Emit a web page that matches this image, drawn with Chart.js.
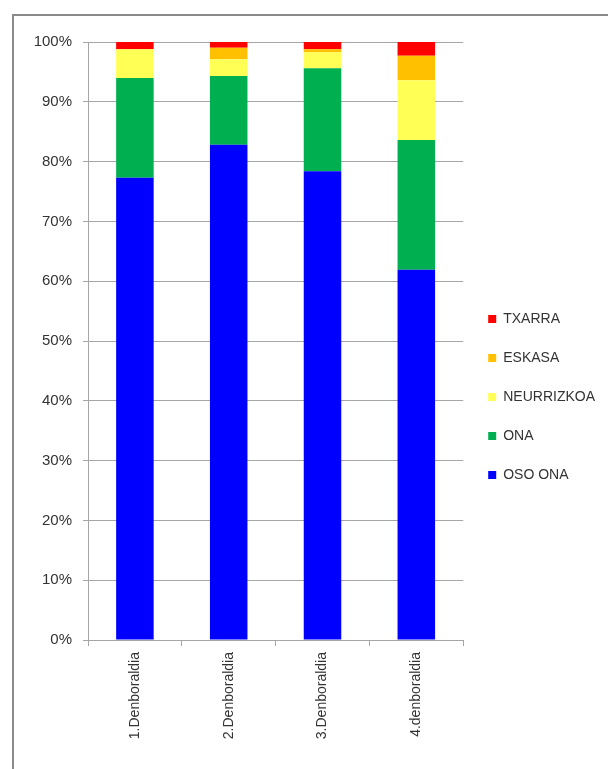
<!DOCTYPE html>
<html>
<head>
<meta charset="utf-8">
<script src="https://cdn.jsdelivr.net/npm/chart.js@4"></script>
<style>
  html, body { margin: 0; padding: 0; background: #fff; overflow: hidden; }
  #wrap { position: relative; width: 608px; height: 769px; }
  #frame { position: absolute; left: 12px; top: 14px; width: 700px; height: 800px; border: 2px solid #8a8a8a; box-sizing: border-box; }
  #chart { position: absolute; left: 0; top: 0; }
</style>
</head>
<body>
<div id="wrap">
  <div id="frame"></div>
  <canvas id="chart" width="608" height="769"></canvas>
</div>
<script>
const categories = ["1.Denboraldia", "2.Denboraldia", "3.Denboraldia", "4.denboraldia"];

// percentages per category, bottom of the stack first
const osoOna = [77.3, 82.8, 78.4, 61.9];
const ona = [16.7, 11.5, 17.2, 21.7];
const neurrizkoa = [4.8, 2.8, 2.7, 10.0];
const eskasa = [0, 1.95, 0.5, 4.1];
const txarra = [1.2, 0.95, 1.2, 2.3];

const yTicks = [0, 10, 20, 30, 40, 50, 60, 70, 80, 90, 100];

const gridColor = "#a6a6a6";
const textColor = "#333333";
const font = { family: "'Liberation Sans', Arial, sans-serif", size: 14 };

const ctx = document.getElementById("chart").getContext("2d");

new Chart(ctx, {
  type: "bar",
  data: {
    labels: categories,
    datasets: [
      { label: "OSO ONA", data: osoOna, backgroundColor: "#0000ff" },
      { label: "ONA", data: ona, backgroundColor: "#00b050" },
      { label: "NEURRIZKOA", data: neurrizkoa, backgroundColor: "#ffff55" },
      { label: "ESKASA", data: eskasa, backgroundColor: "#ffc000" },
      { label: "TXARRA", data: txarra, backgroundColor: "#ff0000" },
    ],
  },
  options: {
    responsive: false,
    animation: false,
    layout: { padding: { top: 42, left: 0, right: 3, bottom: 17 } },
    datasets: {
      bar: { categoryPercentage: 1, barPercentage: 0.4, borderWidth: 0 },
    },
    scales: {
      x: {
        stacked: true,
        grid: {
          offset: true,
          drawOnChartArea: false,
          drawTicks: true,
          tickLength: 6,
          color: gridColor,
        },
        border: { color: gridColor },
        ticks: {
          color: textColor,
          font: font,
          minRotation: 90,
          maxRotation: 90,
          padding: 6,
        },
        afterFit: (s) => { s.height = 112; },
      },
      y: {
        stacked: true,
        min: 0,
        max: 100,
        afterBuildTicks: (s) => { s.ticks = yTicks.map((v) => ({ value: v })); },
        grid: { color: gridColor, tickLength: 5 },
        border: { color: gridColor },
        ticks: {
          color: textColor,
          font: { family: font.family, size: 15 },
          padding: 11,
          callback: (v) => v + "%",
        },
        afterFit: (s) => { s.width = 88; },
      },
    },
    plugins: {
      title: { display: false },
      tooltip: { enabled: false },
      legend: {
        position: "right",
        reverse: true,
        labels: {
          boxWidth: 8,
          boxHeight: 8,
          padding: 25,
          color: textColor,
          font: font,
        },
      },
    },
  },
});
</script>
</body>
</html>
